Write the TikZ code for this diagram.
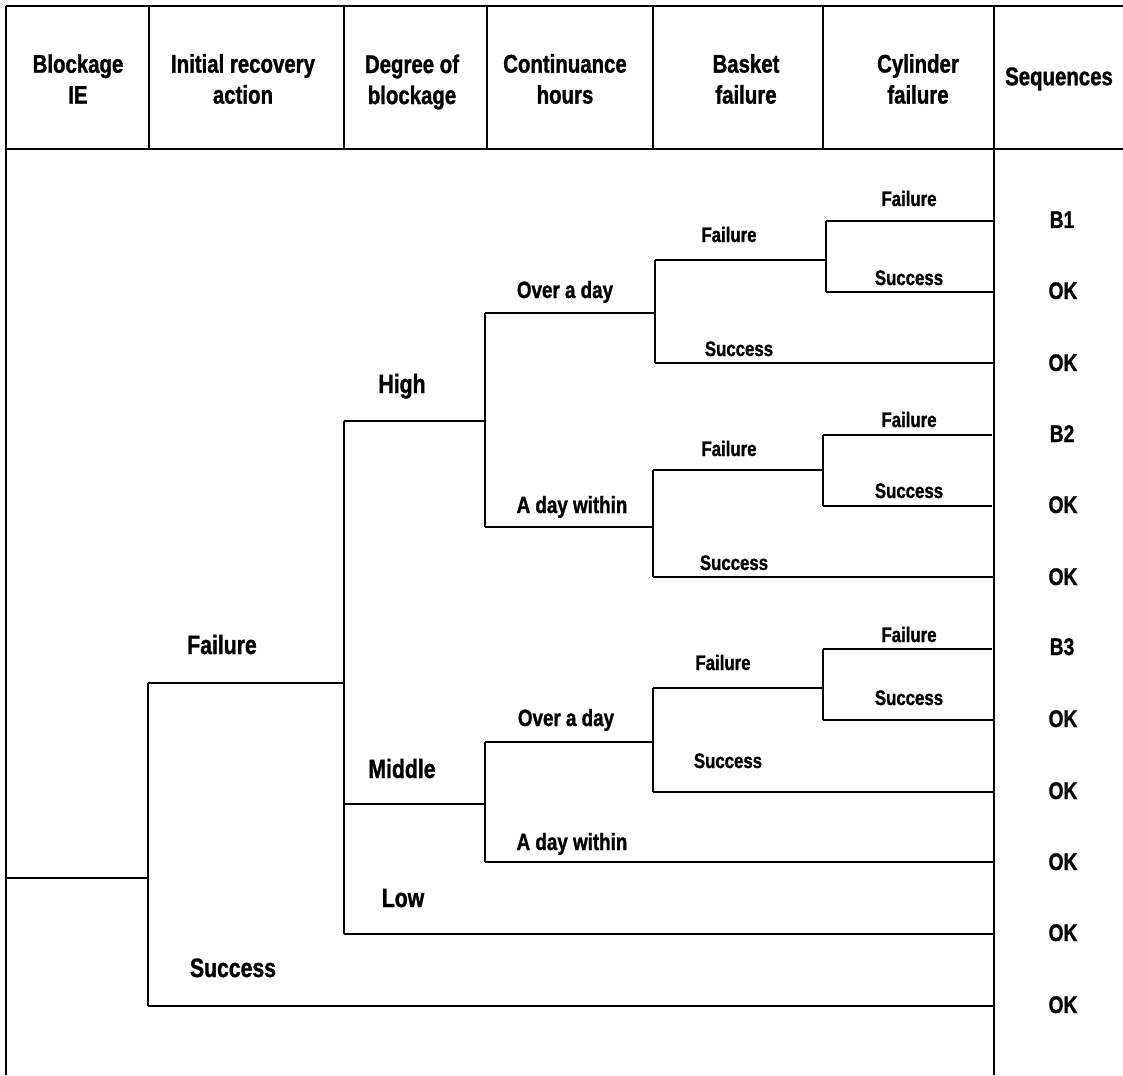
\documentclass[tikz,border=0pt]{standalone}
\usepackage{fontspec}
\setmainfont{Liberation Sans}[FakeStretch=0.8, FakeBold=1.2]
\usepackage{tikz}
\pgfdeclarelayer{edgelayer}
\pgfdeclarelayer{nodelayer}
\pgfsetlayers{edgelayer,nodelayer,main}
\tikzstyle{none}=[inner sep=0pt]
\tikzstyle{frame}=[-, line width=2.0, line cap=rect]
\tikzstyle{branch}=[-, line width=1.6, line cap=rect]
\tikzstyle{header}=[inner sep=0pt, align=center, font=\bfseries\fontsize{25.5}{31}\selectfont]
\tikzstyle{biglabel}=[inner sep=0pt, anchor=base, font=\bfseries\fontsize{26.5}{28}\selectfont]
\tikzstyle{hourlabel}=[inner sep=0pt, anchor=base, font=\bfseries\fontsize{23.5}{25}\selectfont]
\tikzstyle{smalllabel}=[inner sep=0pt, anchor=base, font=\bfseries\fontsize{21}{23}\selectfont]
\tikzstyle{seqlabel}=[inner sep=0pt, anchor=base, font=\bfseries\fontsize{24}{26}\selectfont]

\begin{document}
\begin{tikzpicture}[x=1pt, y=-1pt]
	\useasboundingbox (0, 0) rectangle (1123, 1075);
	\begin{pgfonlayer}{nodelayer}
		% table frame
		\node [style=none] (0) at (6, 6) {};
		\node [style=none] (1) at (1123, 6) {};
		\node [style=none] (2) at (6, 149) {};
		\node [style=none] (3) at (1123, 149) {};
		\node [style=none] (4) at (6, 1075) {};
		\node [style=none] (5) at (149, 6) {};
		\node [style=none] (6) at (149, 149) {};
		\node [style=none] (7) at (344, 6) {};
		\node [style=none] (8) at (344, 149) {};
		\node [style=none] (9) at (487, 6) {};
		\node [style=none] (10) at (487, 149) {};
		\node [style=none] (11) at (653, 6) {};
		\node [style=none] (12) at (653, 149) {};
		\node [style=none] (13) at (823, 6) {};
		\node [style=none] (14) at (823, 149) {};
		\node [style=none] (15) at (994, 6) {};
		\node [style=none] (16) at (994, 1075) {};
		% event tree
		\node [style=none] (20) at (6, 878) {};
		\node [style=none] (21) at (148, 878) {};
		\node [style=none] (22) at (148, 683) {};
		\node [style=none] (23) at (148, 1006) {};
		\node [style=none] (24) at (994, 1006) {};
		\node [style=none] (25) at (344, 683) {};
		\node [style=none] (26) at (344, 421) {};
		\node [style=none] (27) at (344, 934) {};
		\node [style=none] (28) at (994, 934) {};
		\node [style=none] (29) at (344, 804) {};
		\node [style=none] (30) at (485, 421) {};
		\node [style=none] (31) at (485, 313) {};
		\node [style=none] (32) at (485, 527) {};
		\node [style=none] (33) at (655, 313) {};
		\node [style=none] (34) at (655, 260) {};
		\node [style=none] (35) at (655, 363) {};
		\node [style=none] (36) at (994, 363) {};
		\node [style=none] (37) at (826, 260) {};
		\node [style=none] (38) at (826, 221) {};
		\node [style=none] (39) at (826, 292) {};
		\node [style=none] (40) at (994, 221) {};
		\node [style=none] (41) at (994, 292) {};
		\node [style=none] (42) at (653, 527) {};
		\node [style=none] (43) at (653, 470) {};
		\node [style=none] (44) at (653, 577) {};
		\node [style=none] (45) at (994, 577) {};
		\node [style=none] (46) at (823, 470) {};
		\node [style=none] (47) at (823, 435) {};
		\node [style=none] (48) at (823, 506) {};
		\node [style=none] (49) at (992, 435) {};
		\node [style=none] (50) at (992, 506) {};
		\node [style=none] (51) at (485, 804) {};
		\node [style=none] (52) at (485, 742) {};
		\node [style=none] (53) at (485, 862) {};
		\node [style=none] (54) at (994, 862) {};
		\node [style=none] (55) at (653, 742) {};
		\node [style=none] (56) at (653, 688) {};
		\node [style=none] (57) at (653, 792) {};
		\node [style=none] (58) at (994, 792) {};
		\node [style=none] (59) at (823, 688) {};
		\node [style=none] (60) at (823, 649) {};
		\node [style=none] (61) at (823, 720) {};
		\node [style=none] (62) at (992, 649) {};
		\node [style=none] (63) at (994, 720) {};
		% headings
		\node [style=header] (100) at (78, 79) {Blockage\\IE};
		\node [style=header] (101) at (243, 79) {Initial recovery\\action};
		\node [style=header] (102) at (412, 82) {Degree of\\blockage};
		\node [style=header] (103) at (565, 79) {Continuance\\hours};
		\node [style=header] (104) at (746, 79) {Basket\\failure};
		\node [style=header] (105) at (918, 79) {Cylinder\\failure};
		\node [style=header] (106) at (1059, 79) {Sequences};
		% branch labels
		\node [style=biglabel] (110) at (222, 654) {Failure};
		\node [style=biglabel] (111) at (233, 977) {Success};
		\node [style=biglabel] (112) at (402, 393) {High};
		\node [style=biglabel] (113) at (402, 778) {Middle};
		\node [style=biglabel] (114) at (403, 907) {Low};
		\node [style=hourlabel] (115) at (565, 298) {Over a day};
		\node [style=hourlabel] (116) at (572, 513) {A day within};
		\node [style=hourlabel] (117) at (566, 726) {Over a day};
		\node [style=hourlabel] (118) at (572, 850) {A day within};
		\node [style=smalllabel] (120) at (729, 242) {Failure};
		\node [style=smalllabel] (121) at (739, 356) {Success};
		\node [style=smalllabel] (122) at (909, 206) {Failure};
		\node [style=smalllabel] (123) at (909, 285) {Success};
		\node [style=smalllabel] (124) at (729, 456) {Failure};
		\node [style=smalllabel] (125) at (734, 570) {Success};
		\node [style=smalllabel] (126) at (909, 427) {Failure};
		\node [style=smalllabel] (127) at (909, 498) {Success};
		\node [style=smalllabel] (128) at (723, 670) {Failure};
		\node [style=smalllabel] (129) at (728, 768) {Success};
		\node [style=smalllabel] (130) at (909, 642) {Failure};
		\node [style=smalllabel] (131) at (909, 705) {Success};
		% sequences
		\node [style=seqlabel] (140) at (1062, 228) {B1};
		\node [style=seqlabel] (141) at (1063, 299) {OK};
		\node [style=seqlabel] (142) at (1063, 371) {OK};
		\node [style=seqlabel] (143) at (1062, 442) {B2};
		\node [style=seqlabel] (144) at (1063, 513) {OK};
		\node [style=seqlabel] (145) at (1063, 585) {OK};
		\node [style=seqlabel] (146) at (1062, 655) {B3};
		\node [style=seqlabel] (147) at (1063, 727) {OK};
		\node [style=seqlabel] (148) at (1063, 799) {OK};
		\node [style=seqlabel] (149) at (1063, 870) {OK};
		\node [style=seqlabel] (150) at (1063, 941) {OK};
		\node [style=seqlabel] (151) at (1063, 1013) {OK};
	\end{pgfonlayer}
	\begin{pgfonlayer}{edgelayer}
		\draw [style=frame] (0) to (1);
		\draw [style=frame] (2) to (3);
		\draw [style=frame] (0) to (4);
		\draw [style=frame] (5) to (6);
		\draw [style=frame] (7) to (8);
		\draw [style=frame] (9) to (10);
		\draw [style=frame] (11) to (12);
		\draw [style=frame] (13) to (14);
		\draw [style=frame] (15) to (16);
		\draw [style=branch] (20) to (21);
		\draw [style=branch] (22) to (23);
		\draw [style=branch] (22) to (25);
		\draw [style=branch] (23) to (24);
		\draw [style=branch] (26) to (27);
		\draw [style=branch] (26) to (30);
		\draw [style=branch] (29) to (51);
		\draw [style=branch] (27) to (28);
		\draw [style=branch] (31) to (32);
		\draw [style=branch] (31) to (33);
		\draw [style=branch] (32) to (42);
		\draw [style=branch] (34) to (35);
		\draw [style=branch] (34) to (37);
		\draw [style=branch] (35) to (36);
		\draw [style=branch] (38) to (39);
		\draw [style=branch] (38) to (40);
		\draw [style=branch] (39) to (41);
		\draw [style=branch] (43) to (44);
		\draw [style=branch] (43) to (46);
		\draw [style=branch] (44) to (45);
		\draw [style=branch] (47) to (48);
		\draw [style=branch] (47) to (49);
		\draw [style=branch] (48) to (50);
		\draw [style=branch] (52) to (53);
		\draw [style=branch] (52) to (55);
		\draw [style=branch] (53) to (54);
		\draw [style=branch] (56) to (57);
		\draw [style=branch] (56) to (59);
		\draw [style=branch] (57) to (58);
		\draw [style=branch] (60) to (61);
		\draw [style=branch] (60) to (62);
		\draw [style=branch] (61) to (63);
	\end{pgfonlayer}
\end{tikzpicture}
\end{document}
